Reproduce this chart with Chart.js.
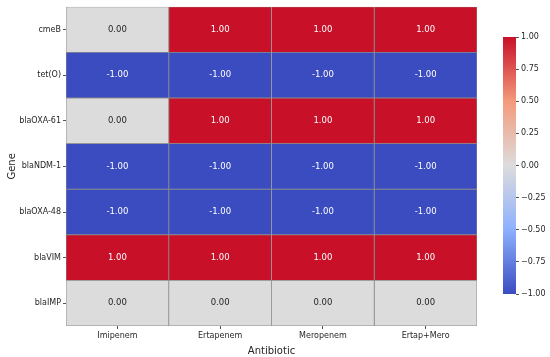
<!DOCTYPE html>
<html>
<head>
<meta charset="utf-8">
<script src="https://cdn.jsdelivr.net/npm/chart.js@4"></script>
<style>
  body { margin: 0; background: #fff; }
  #wrap { position: relative; width: 550px; height: 357px; }
  #heat { position: absolute; left: 0; top: 0; }
  #cbar { position: absolute; left: 490px; top: 0; }
</style>
</head>
<body>
<div id="wrap">
  <canvas id="heat" width="550" height="357"></canvas>
  <canvas id="cbar" width="60" height="357"></canvas>
</div>
<script>
const genes = ['cmeB', 'tet(O)', 'blaOXA-61', 'blaNDM-1', 'blaOXA-48', 'blaVIM', 'blaIMP'];
const antibiotics = ['Imipenem', 'Ertapenem', 'Meropenem', 'Ertap+Mero'];
// one column per antibiotic, rows follow genes
const imipenem = [0, -1, 0, -1, -1, 1, 0];
const ertapenem = [1, -1, 1, -1, -1, 1, 0];
const meropenem = [1, -1, 1, -1, -1, 1, 0];
const ertapMero = [1, -1, 1, -1, -1, 1, 0];
const columns = [imipenem, ertapenem, meropenem, ertapMero];
const cbarTicks = [-1, -0.75, -0.5, -0.25, 0, 0.25, 0.5, 0.75, 1];

const FONT = 'DejaVu Sans';
const textCol = '#262626';

// coolwarm-ish stops
const stops = [
  [-1, [59, 76, 192]],
  [-0.5, [141, 176, 254]],
  [0, [221, 220, 220]],
  [0.5, [244, 154, 123]],
  [1, [200, 16, 40]]
];

function colorFor(v) {
  for (let i = 0; i < stops.length - 1; i++) {
    const [a, ca] = stops[i], [b, cb] = stops[i + 1];
    if (v <= b) {
      const t = (v - a) / (b - a);
      const c = ca.map((x, k) => Math.round(x + (cb[k] - x) * t));
      return `rgb(${c[0]},${c[1]},${c[2]})`;
    }
  }
  return 'rgb(200,16,40)';
}

const cellLabels = {
  id: 'cellLabels',
  afterDatasetsDraw(chart) {
    const ctx = chart.ctx;
    ctx.save();
    ctx.font = `8.5px "${FONT}"`;
    ctx.textAlign = 'center';
    ctx.textBaseline = 'middle';
    chart.data.datasets.forEach((ds, di) => {
      chart.getDatasetMeta(di).data.forEach((bar, i) => {
        const v = ds.values[i];
        const p = bar.getProps(['x', 'y', 'base'], true);
        ctx.fillStyle = v === 0 ? textCol : '#ffffff';
        ctx.fillText(v.toFixed(2), (p.x + p.base) / 2, p.y);
      });
    });
    ctx.restore();
  }
};

new Chart(document.getElementById('heat'), {
  type: 'bar',
  data: {
    labels: genes,
    datasets: columns.map((col, c) => ({
      label: antibiotics[c],
      values: col,
      data: col.map(() => [c, c + 1]),
      backgroundColor: col.map(colorFor),
      borderColor: '#8c8c8c',
      borderWidth: 0.8,
      borderSkipped: false,
      grouped: false,
      barPercentage: 1,
      categoryPercentage: 1
    }))
  },
  options: {
    indexAxis: 'y',
    responsive: false,
    animation: false,
    layout: { padding: { left: 0, right: 73, top: 5, bottom: 0 } },
    plugins: { legend: { display: false }, tooltip: { enabled: false } },
    scales: {
      x: {
        type: 'linear',
        min: 0,
        max: 4,
        afterBuildTicks: s => { s.ticks = antibiotics.map((_, i) => ({ value: i + 0.5 })); },
        afterFit: s => { s.height = 31; },
        ticks: {
          callback: (v) => antibiotics[Math.floor(v)],
          font: { family: FONT, size: 8 },
          color: textCol,
          padding: 2,
          maxRotation: 0
        },
        grid: { drawOnChartArea: false, tickLength: 3, color: '#555' },
        border: { display: false },
        title: { display: true, text: 'Antibiotic', font: { family: FONT, size: 10 }, color: textCol, padding: { top: 0, bottom: 0 } }
      },
      y: {
        afterFit: s => { s.width = 66; },
        ticks: { font: { family: FONT, size: 8 }, color: textCol, padding: 2 },
        grid: { drawOnChartArea: false, offset: false, tickLength: 3, color: '#555' },
        border: { display: false },
        title: { display: true, text: 'Gene', font: { family: FONT, size: 10 }, color: textCol, padding: { top: 6, bottom: 0 } }
      }
    }
  },
  plugins: [cellLabels]
});

new Chart(document.getElementById('cbar'), {
  type: 'bar',
  data: {
    labels: [''],
    datasets: [{
      data: [[-1, 1]],
      backgroundColor: (ctx) => {
        const area = ctx.chart.chartArea;
        if (!area) return '#ddd';
        const g = ctx.chart.ctx.createLinearGradient(0, area.bottom, 0, area.top);
        stops.forEach(([v, c]) => g.addColorStop((v + 1) / 2, `rgb(${c[0]},${c[1]},${c[2]})`));
        return g;
      },
      borderWidth: 0,
      barPercentage: 1,
      categoryPercentage: 1
    }]
  },
  options: {
    responsive: false,
    animation: false,
    layout: { padding: { left: 13, right: 0, top: 37, bottom: 63 } },
    plugins: { legend: { display: false }, tooltip: { enabled: false } },
    scales: {
      x: { display: false },
      y: {
        position: 'right',
        min: -1,
        max: 1,
        afterBuildTicks: s => { s.ticks = cbarTicks.map(v => ({ value: v })); },
        afterFit: s => { s.width = 34; },
        ticks: {
          callback: v => v.toFixed(2).replace('-', '\u2212'),
          font: { family: FONT, size: 8 },
          color: textCol,
          padding: 2
        },
        grid: { drawOnChartArea: false, tickLength: 3, color: '#555' },
        border: { display: false }
      }
    }
  }
});
</script>
</body>
</html>
